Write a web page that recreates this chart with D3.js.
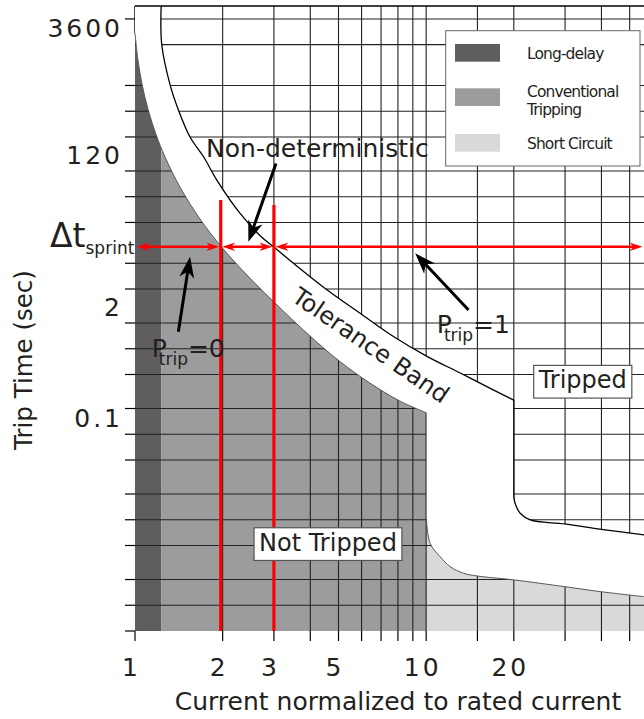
<!DOCTYPE html>
<html lang="en">
<head>
<meta charset="UTF-8">
<title>Trip curve</title>
<script src="https://cdn.jsdelivr.net/npm/d3@7"></script>
<style>
    body { margin: 0; background: #fff; }
    svg { display: block; font-family: "DejaVu Sans", sans-serif; }
</style>
</head>
<body>
<div id="chart"></div>
<script>
// values: current in multiples of rated current, time in seconds
var xGrid = [2, 3, 4, 5, 6, 7, 8, 9, 10, 15, 20, 30, 40, 50];
var xTicks = [1, 2, 3, 4, 5, 6, 7, 8, 9, 10, 15, 20, 30, 40, 50];
var xTickLabels = [1, 2, 3, 5, 10, 20];

var yGrid = [0.001, 0.002, 0.005, 0.01, 0.02, 0.05, 0.1, 0.2, 0.5, 1, 2, 5, 10, 30, 60, 120, 300, 600, 1200, 3600, 7200];
var yTicks = [0.0005, 0.001, 0.002, 0.005, 0.01, 0.02, 0.05, 0.1, 0.2, 0.5, 1, 2, 5, 10, 30, 60, 120, 300, 600, 1200, 7200];
var yTickLabels = [0.1, 2, 120, 3600];

// upper edge of the tolerance band
var upperCurve = [[1.23, 10200], [1.235, 3670], [1.32, 1220], [1.41, 620], [1.545, 300], [1.72, 176], [1.91, 94],
    [2.3, 38], [2.69, 21], [2.99, 15.6], [3.5, 10], [4.56, 4.9], [5.93, 2.6], [7.72, 1.39], [10.1, 0.81],
    [13.1, 0.52], [17.0, 0.33], [20, 0.25]];
var upperDrop = [[20, 0.25], [20, 0.0185]];
var upperTail = [[20, 0.0185], [20.2, 0.0156], [21.04, 0.0119], [22.77, 0.00995], [29.87, 0.00893], [39.9, 0.00774], [56, 0.00664]];

// lower edge of the tolerance band
var lowerCurve = [[1, 4900], [1.024, 2380], [1.057, 1250], [1.108, 636], [1.181, 320], [1.268, 175], [1.427, 78],
    [1.672, 32.9], [1.958, 16.3], [2.387, 7.68], [2.978, 3.61], [3.99, 1.41], [5.058, 0.708], [6.41, 0.397],
    [8.13, 0.244], [10, 0.179]];
var lowerDrop = [[10, 0.179], [10, 0.0114]];
var lowerTail = [[10, 0.0114], [10.32, 0.0053], [11.17, 0.0037], [12.09, 0.00283], [13.43, 0.00237], [14.97, 0.0022],
    [20, 0.00198], [29.9, 0.00165], [39.9, 0.00144], [56, 0.00126]];

// shaded regions under the band
var regionNames = ['Long-delay', 'Conventional|Tripping', 'Short Circuit'];
var regionBounds = [1, 1.23, 10, 56];
var regionColors = ['#5f5d60', '#9a9c9e', '#d9d9d9'];

// sprint markers
var sprintCurrents = [1.97, 3.0];
var sprintTops = [55, 48];
var sprintTime = 15.6;
var sprintSpans = [[1, 1.97], [1.97, 3.0], [3.0, 56]];

// annotations (data coordinates)
var nonDetText = [1.754, 173];
var nonDetArrow = [[3.05, 147], [2.451, 17.8]];
var ptrip0Text = [1.141, 0.806];
var ptrip0Arrow = [[1.409, 1.58], [1.545, 11.9]];
var ptrip1Text = [10.88, 1.526];
var ptrip1Arrow = [[13.98, 2.84], [9.17, 13.06]];
var boxLabels = [{text: 'Tripped', at: [34.5, 0.344]}, {text: 'Not Tripped', at: [4.6, 0.00434]}];
var bandLabel = {text: 'Tolerance Band', at: [6.46, 1.105], angle: 34.5};

var W = 644, H = 719;
var margin = {left: 135, right: 0, top: 6, bottom: 88};
var ink = '#231f20';

var x = d3.scaleLog().domain([1, 56]).range([margin.left, W - margin.right]);
var y = d3.scaleLog().domain([0.0005, 10200]).range([H - margin.bottom, margin.top]);
var x0 = x.range()[0], x1 = x.range()[1], y0 = y.range()[0], y1 = y.range()[1];

var svg = d3.select('#chart').append('svg')
    .attr('width', W)
    .attr('height', H);

// builds one path out of pieces with their own curve type
function joinPieces(pieces) {
    return pieces.map(function(p, i) {
        var s = d3.line()
            .x(function(d) { return x(d[0]); })
            .y(function(d) { return y(d[1]); })
            .curve(p.curve)(p.pts);
        return i ? s.replace(/^M/, 'L') : s;
    }).join('');
}

var lowerPieces = [
    {pts: lowerCurve, curve: d3.curveCatmullRom},
    {pts: lowerDrop, curve: d3.curveLinear},
    {pts: lowerTail, curve: d3.curveCatmullRom}
];
var upperPieces = [
    {pts: upperCurve, curve: d3.curveCatmullRom},
    {pts: upperDrop, curve: d3.curveLinear},
    {pts: upperTail, curve: d3.curveCatmullRom}
];
var upperReversed = upperPieces.slice().reverse().map(function(p) {
    return {pts: p.pts.slice().reverse(), curve: p.curve};
});

var lowerPath = joinPieces(lowerPieces);
var upperPath = joinPieces(upperPieces);
var underPath = lowerPath + 'L' + x1 + ',' + y0 + 'L' + x0 + ',' + y0 + 'Z';
var bandPath = 'M' + x0 + ',' + y1 + lowerPath.replace(/^M/, 'L') +
    joinPieces(upperReversed).replace(/^M/, 'L') + 'Z';

svg.append('defs').append('clipPath')
    .attr('id', 'under')
    .append('path')
    .attr('d', underPath);

// left frame line above the fills
svg.append('line')
    .attr('x1', x0).attr('x2', x0)
    .attr('y1', y1).attr('y2', y(lowerCurve[0][1]))
    .attr('stroke', '#000').attr('stroke-width', 1.4);

// shaded regions
svg.append('g')
    .attr('clip-path', 'url(#under)')
    .selectAll('rect')
    .data(regionColors)
    .join('rect')
    .attr('x', function(d, i) { return x(regionBounds[i]); })
    .attr('width', function(d, i) { return x(regionBounds[i + 1]) - x(regionBounds[i]); })
    .attr('y', y1)
    .attr('height', y0 - y1)
    .attr('fill', function(d) { return d; });

// grid
var grid = svg.append('g')
    .attr('stroke', '#222')
    .attr('stroke-width', 1.1);
grid.selectAll('.hg')
    .data(yGrid)
    .join('line')
    .attr('class', 'hg')
    .attr('x1', x0).attr('x2', x1)
    .attr('y1', function(d) { return y(d); })
    .attr('y2', function(d) { return y(d); });
grid.selectAll('.vg')
    .data(xGrid)
    .join('line')
    .attr('class', 'vg')
    .attr('x1', function(d) { return x(d); })
    .attr('x2', function(d) { return x(d); })
    .attr('y1', y1).attr('y2', y0);

// tolerance band
svg.append('path')
    .attr('d', bandPath)
    .attr('fill', '#fff');
svg.append('path')
    .attr('d', lowerPath)
    .attr('fill', 'none')
    .attr('stroke', '#444')
    .attr('stroke-width', 0.9);
svg.append('path')
    .attr('d', upperPath)
    .attr('fill', 'none')
    .attr('stroke', '#000')
    .attr('stroke-width', 1.3);

// top frame line
svg.append('line')
    .attr('x1', x0).attr('x2', x1)
    .attr('y1', y1).attr('y2', y1)
    .attr('stroke', '#000').attr('stroke-width', 1.4);

// ticks
var ticks = svg.append('g').attr('stroke', '#000').attr('stroke-width', 1.2);
ticks.selectAll('.yt')
    .data(yTicks)
    .join('line')
    .attr('class', 'yt')
    .attr('x1', x0 - 10).attr('x2', x0)
    .attr('y1', function(d) { return y(d); })
    .attr('y2', function(d) { return y(d); });
ticks.selectAll('.xt')
    .data(xTicks)
    .join('line')
    .attr('class', 'xt')
    .attr('x1', function(d) { return x(d); })
    .attr('x2', function(d) { return x(d); })
    .attr('y1', y0).attr('y2', y0 + 10);

// tick labels
svg.append('g')
    .selectAll('text')
    .data(xTickLabels)
    .join('text')
    .attr('x', function(d) { return x(d); })
    .attr('y', 676)
    .attr('dx', -3.5)
    .attr('text-anchor', 'middle')
    .attr('font-size', 25)
    .attr('letter-spacing', 3)
    .attr('fill', ink)
    .text(function(d) { return d; });

svg.append('g')
    .selectAll('text')
    .data(yTickLabels)
    .join('text')
    .attr('x', 123)
    .attr('y', function(d) { return y(d) - 7.3; })
    .attr('text-anchor', 'end')
    .attr('font-size', 25)
    .attr('letter-spacing', 3)
    .attr('fill', ink)
    .text(function(d) { return d; });

// axis titles
svg.append('text')
    .attr('transform', 'translate(31.5,360) rotate(-90)')
    .attr('text-anchor', 'middle')
    .attr('font-size', 24.5)
    .attr('fill', ink)
    .text('Trip Time (sec)');

svg.append('text')
    .attr('x', 398)
    .attr('y', 710)
    .attr('text-anchor', 'middle')
    .attr('font-size', 25)
    .attr('fill', ink)
    .text('Current normalized to rated current');

// legend
var legend = svg.append('g').attr('transform', 'translate(445.7,30.7)');
legend.append('rect')
    .attr('width', 194.3).attr('height', 135.3)
    .attr('fill', '#fff')
    .attr('stroke', '#666')
    .attr('stroke-width', 1);
var legRows = [13.3, 57.6, 103.3];
regionNames.forEach(function(name, i) {
    legend.append('rect')
        .attr('x', 9.3).attr('y', legRows[i])
        .attr('width', 45).attr('height', 17.7)
        .attr('fill', regionColors[i]);
    var lines = name.split('|');
    var t = legend.append('text')
        .attr('font-size', 15.5)
        .attr('letter-spacing', -0.9)
        .attr('fill', ink);
    lines.forEach(function(l, j) {
        t.append('tspan')
            .attr('x', 81.3)
            .attr('y', (lines.length > 1 ? legRows[i] + 8.4 : legRows[i] + 15.5) + j * 18.3)
            .text(l);
    });
});

// arrow heads
function arrowHead(g, tx, ty, angle, len, half, notch, color) {
    g.append('path')
        .attr('d', 'M0,0L' + (-len) + ',' + (-half) + 'L' + (-len + notch) + ',0L' + (-len) + ',' + half + 'Z')
        .attr('transform', 'translate(' + tx + ',' + ty + ') rotate(' + angle + ')')
        .attr('fill', color);
}

// red sprint markers
var red = svg.append('g');
red.selectAll('line')
    .data(sprintCurrents)
    .join('line')
    .attr('x1', function(d) { return x(d); })
    .attr('x2', function(d) { return x(d); })
    .attr('y1', function(d, i) { return y(sprintTops[i]); })
    .attr('y2', y0)
    .attr('stroke', '#ff0000')
    .attr('stroke-width', 3.2);

sprintSpans.forEach(function(s) {
    var ya = y(sprintTime);
    var xa = x(s[0]) + 1.5, xb = x(s[1]) - 1.5;
    red.append('line')
        .attr('x1', xa + 8).attr('x2', xb - 8)
        .attr('y1', ya).attr('y2', ya)
        .attr('stroke', '#ff0000')
        .attr('stroke-width', 2.6);
    arrowHead(red, xa, ya, 180, 13, 4.2, 4, '#ff0000');
    arrowHead(red, xb, ya, 0, 13, 4.2, 4, '#ff0000');
});

// black annotation arrows
var notes = svg.append('g');
[nonDetArrow, ptrip0Arrow, ptrip1Arrow].forEach(function(a) {
    var tx = x(a[0][0]), ty = y(a[0][1]);
    var hx = x(a[1][0]), hy = y(a[1][1]);
    var ang = Math.atan2(hy - ty, hx - tx);
    notes.append('line')
        .attr('x1', tx).attr('y1', ty)
        .attr('x2', hx - 14 * Math.cos(ang)).attr('y2', hy - 14 * Math.sin(ang))
        .attr('stroke', '#000')
        .attr('stroke-width', 3);
    arrowHead(notes, hx, hy, ang * 180 / Math.PI, 21, 7.5, 6, '#000');
});

notes.append('text')
    .attr('x', x(nonDetText[0]))
    .attr('y', y(nonDetText[1]))
    .attr('font-size', 25)
    .attr('fill', ink)
    .text('Non-deterministic');

function ptrip(pos, val) {
    var t = notes.append('text')
        .attr('x', x(pos[0]))
        .attr('y', y(pos[1]))
        .attr('font-size', 25)
        .attr('fill', ink);
    t.append('tspan').text('P');
    t.append('tspan').attr('font-size', 17).attr('dx', -8).attr('dy', 8).text('trip');
    t.append('tspan').attr('dy', -8).text('=' + val);
}
ptrip(ptrip0Text, 0);
ptrip(ptrip1Text, 1);

// delta t sprint
var dt = svg.append('text')
    .attr('x', 50)
    .attr('y', y(sprintTime))
    .attr('fill', ink);
dt.append('tspan').attr('font-size', 33).text('\u0394t');
dt.append('tspan').attr('font-size', 17).attr('dy', 7).text('sprint');

// tolerance band label
svg.append('text')
    .attr('transform', 'translate(' + x(bandLabel.at[0]) + ',' + y(bandLabel.at[1]) + ') rotate(' + bandLabel.angle + ')')
    .attr('text-anchor', 'middle')
    .attr('dy', '0.36em')
    .attr('font-size', 24)
    .attr('fill', ink)
    .text(bandLabel.text);

// boxed labels
boxLabels.forEach(function(b) {
    var g = svg.append('g');
    var r = g.append('rect');
    var t = g.append('text')
        .attr('x', x(b.at[0]))
        .attr('y', y(b.at[1]))
        .attr('text-anchor', 'middle')
        .attr('font-size', 24)
        .attr('fill', ink)
        .text(b.text);
    var w = t.node().getComputedTextLength();
    r.attr('x', x(b.at[0]) - w / 2 - 5)
        .attr('y', y(b.at[1]) - 23)
        .attr('width', w + 10)
        .attr('height', 32.7)
        .attr('fill', '#fff')
        .attr('stroke', '#555')
        .attr('stroke-width', 1.2);
});
</script>
</body>
</html>
